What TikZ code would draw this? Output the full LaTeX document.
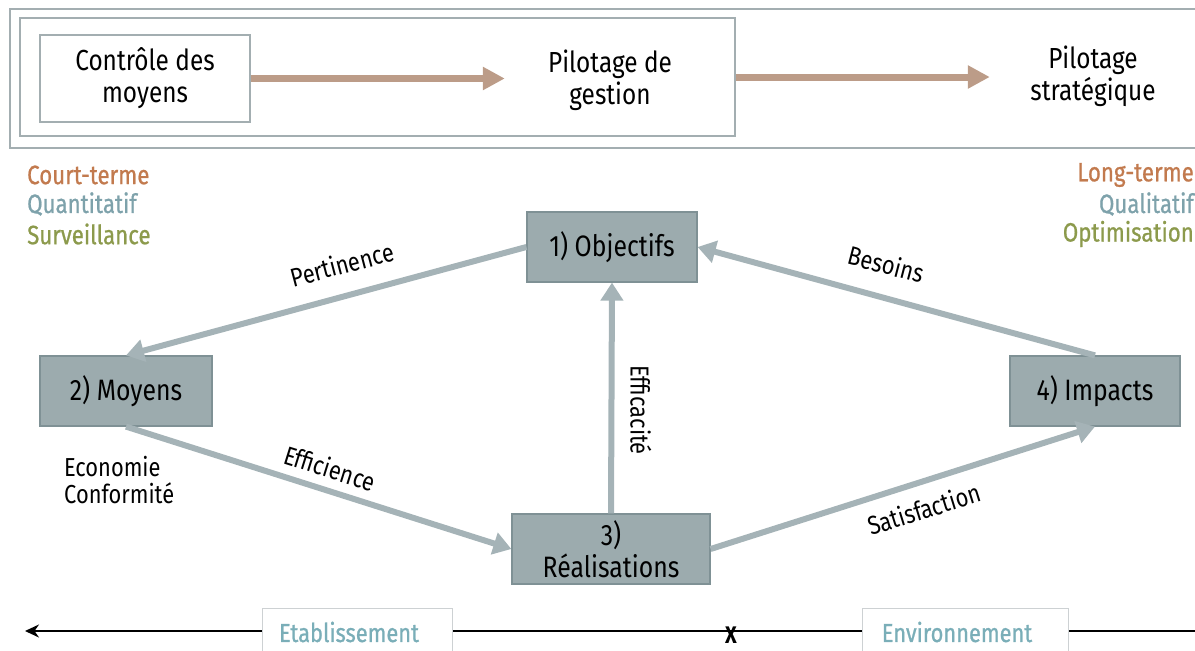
\documentclass[tikz,border=0pt]{standalone}
\usepackage{fontspec}
\setmainfont[FakeStretch=0.84]{Fira Sans}
\newfontfamily\medfont[FakeStretch=0.84,FakeBold=0.8]{Fira Sans}
\usetikzlibrary{arrows.meta}
\definecolor{framec}{HTML}{A3AEB1}
\definecolor{tanc}{HTML}{BC9C88}
\definecolor{nodefill}{HTML}{9CABAE}
\definecolor{nodeborder}{HTML}{7F9195}
\definecolor{arrowc}{HTML}{A5B3B7}
\definecolor{courtc}{HTML}{C27A4E}
\definecolor{quantc}{HTML}{7EA2AB}
\definecolor{survc}{HTML}{8C9A4C}
\definecolor{botc}{HTML}{7AAEB8}
\definecolor{botframe}{HTML}{CDD1D3}
\begin{document}
\begin{tikzpicture}[x=1pt,y=-1pt,
  txt/.style={font=\fontsize{29}{32}\selectfont, align=center, text=black},
  framebox/.style={draw=framec, line width=1.8pt},
  ctrlbox/.style={txt, draw=framec, line width=1.8pt, minimum width=210pt, minimum height=87pt},
  plainbox/.style={txt, minimum height=70pt},
  toparrow/.style={draw=tanc, line width=7pt, -{Triangle[width=22pt,length=22pt]}},
  mainbox/.style={txt, fill=nodefill, draw=nodeborder, line width=1.2pt, minimum width=170pt, minimum height=70pt, font=\fontsize{29.5}{32}\selectfont},
  garrow/.style={draw=arrowc, line width=6pt, -{Triangle[width=22pt,length=18pt]}},
  lab/.style={font=\fontsize{26}{27}\selectfont, inner sep=0pt, text=black},
  side/.style={font=\medfont\fontsize{26.5}{29}\selectfont, inner sep=0pt},
  botbox/.style={draw=botframe, fill=white, line width=1pt, minimum height=48pt, text=botc, font=\medfont\fontsize{26}{25}\selectfont}
]
\useasboundingbox (0,0) rectangle (1195,651);
% top frames
\draw[framebox] (10,9) rectangle (1210,148);
\node[framebox, minimum width=715pt, minimum height=118pt, inner sep=0pt] (inner) at (377.5,77) {};
\node[ctrlbox] (ctrl) at (145,78.5) {Contrôle des\\moyens};
\node[plainbox, minimum width=210pt] (pg) at (610,80) {Pilotage de\\gestion};
\node[plainbox, minimum width=206pt] (ps) at (1093,76) {Pilotage\\stratégique};
\draw[toparrow] (ctrl.east) -- (ctrl.east -| pg.west);
\draw[toparrow] (inner.east) -- (inner.east -| ps.west);
% side labels
\node[side, anchor=west, text=courtc] (ct) at (27,175) {Court-terme};
\node[side, anchor=west, text=quantc] (qn) at (27,204) {Quantitatif};
\node[side, anchor=west, text=survc] (sv) at (27,234) {Surveillance};
\node[side, anchor=east, text=courtc] (lt) at (1194,175) {Long-terme};
\node[side, anchor=east, text=quantc] (ql) at (1194,204) {Qualitatif};
\node[side, anchor=east, text=survc] (op) at (1194,234) {Optimisation};
% main nodes
\node[mainbox] (obj) at (612,247) {1) Objectifs};
\node[mainbox, minimum width=172pt] (moy) at (126,391) {2) Moyens};
\node[mainbox] (imp) at (1095,391) {4) Impacts};
\node[mainbox, minimum width=198pt, inner sep=2pt] (real) at (611,549) {3)\\Réalisations};
% connectors
\draw[garrow] (obj.west) -- (moy.north);
\draw[garrow] (imp.north) -- (obj.east);
\draw[garrow] (real.north) -- (obj.south);
\draw[garrow] (moy.south) -- (real.west);
\draw[garrow] (real.east) -- (imp.south);
% connector labels
\node[lab, rotate=14.7] (lper) at (342,264) {Pertinence};
\node[lab, rotate=-14.6] (lbes) at (886,264) {Besoins};
\node[lab, rotate=-17.4] (leff) at (330,468) {Efficience};
\node[lab, rotate=17.3] (lsat) at (924,509) {Satisfaction};
\node[lab, rotate=-90] (lefc) at (641,410) {Efficacité};
\node[lab, anchor=west, align=left, font=\fontsize{26}{27}\selectfont] (eco) at (64,480) {Economie\\Conformité};
% bottom axis
\coordinate (lend) at (25,631);
\coordinate (rend) at (1200,631);
\draw[line width=2pt, -{Stealth[length=14pt,width=13pt]}] (rend) -- (lend);
\node[botbox, minimum width=190pt] (etab) at (357,632) {Etablissement\hspace*{16pt}};
\node[botbox, minimum width=206pt] (env) at (965,632) {Environnement\hspace*{16pt}};
\node[font=\fontsize{24}{26}\selectfont\bfseries, inner sep=0pt] (xm) at (731,635) {X};
\end{tikzpicture}
\end{document}
